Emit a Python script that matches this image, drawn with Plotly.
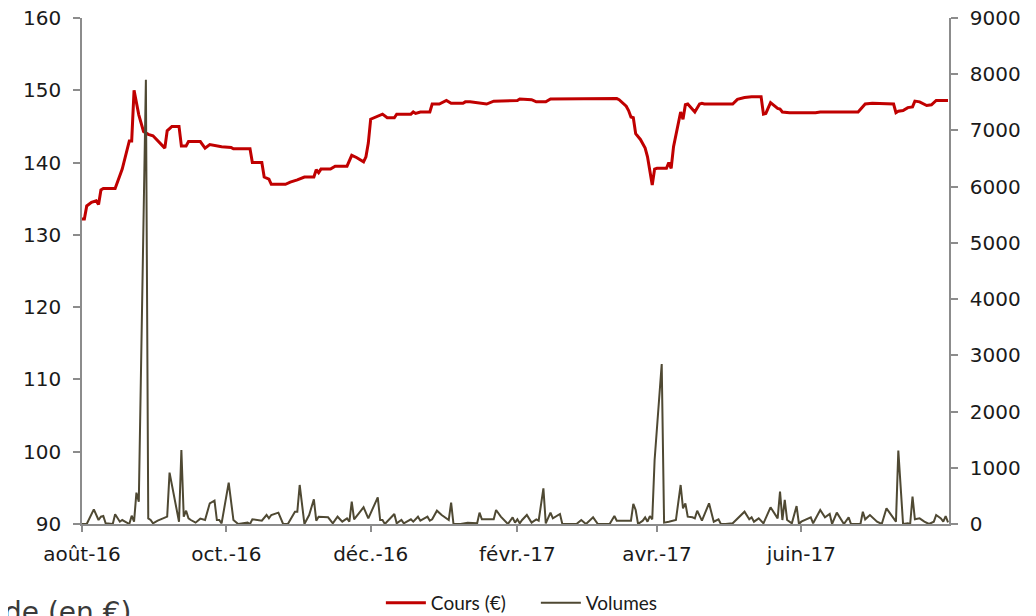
import plotly.graph_objects as go

# --- Data ---
price_dates = [
    "2016-08-01", "2016-08-02", "2016-08-03", "2016-08-05", "2016-08-07", "2016-08-08",
    "2016-08-09", "2016-08-10", "2016-08-15", "2016-08-18", "2016-08-21", "2016-08-22",
    "2016-08-23", "2016-08-25", "2016-08-27", "2016-08-29", "2016-08-31", "2016-09-02",
    "2016-09-04", "2016-09-05", "2016-09-06", "2016-09-08", "2016-09-11", "2016-09-12",
    "2016-09-14", "2016-09-15", "2016-09-20", "2016-09-22", "2016-09-24", "2016-09-27",
    "2016-09-29", "2016-10-03", "2016-10-04", "2016-10-11", "2016-10-12", "2016-10-16",
    "2016-10-17", "2016-10-19", "2016-10-20", "2016-10-26", "2016-10-28", "2016-10-31",
    "2016-11-01", "2016-11-03", "2016-11-07", "2016-11-08", "2016-11-09", "2016-11-10",
    "2016-11-14", "2016-11-16", "2016-11-21", "2016-11-23", "2016-11-25", "2016-11-28",
    "2016-11-29", "2016-11-30", "2016-12-01", "2016-12-04", "2016-12-06", "2016-12-08",
    "2016-12-11", "2016-12-12", "2016-12-18", "2016-12-19", "2016-12-20", "2016-12-22",
    "2016-12-26", "2016-12-27", "2016-12-30", "2017-01-02", "2017-01-04", "2017-01-09",
    "2017-01-10", "2017-01-12", "2017-01-16", "2017-01-19", "2017-01-22", "2017-01-23",
    "2017-01-26", "2017-02-01", "2017-02-02", "2017-02-07", "2017-02-09", "2017-02-13",
    "2017-02-15", "2017-03-15", "2017-03-16", "2017-03-19", "2017-03-20", "2017-03-21",
    "2017-03-22", "2017-03-23", "2017-03-25", "2017-03-27", "2017-03-28", "2017-03-29",
    "2017-03-30", "2017-03-31", "2017-04-01", "2017-04-05", "2017-04-06", "2017-04-07",
    "2017-04-08", "2017-04-11", "2017-04-12", "2017-04-13", "2017-04-14", "2017-04-17",
    "2017-04-19", "2017-04-20", "2017-04-21", "2017-05-03", "2017-05-05", "2017-05-08",
    "2017-05-11", "2017-05-15", "2017-05-16", "2017-05-17", "2017-05-19", "2017-05-22",
    "2017-05-23", "2017-05-24", "2017-05-27", "2017-06-07", "2017-06-09", "2017-06-25",
    "2017-06-28", "2017-07-01", "2017-07-10", "2017-07-11", "2017-07-12", "2017-07-14",
    "2017-07-16", "2017-07-18", "2017-07-19", "2017-07-21", "2017-07-24", "2017-07-26",
    "2017-07-28", "2017-08-02",
]
price_values = [
    132.2, 132.2, 134.0, 134.5, 134.7, 134.2,
    136.2, 136.4, 136.4, 139.1, 143.0, 143.0,
    150.0, 146.6, 144.3, 143.9, 143.7, 143.0,
    142.4, 142.0, 144.4, 145.0, 145.0, 142.3,
    142.3, 142.9, 142.9, 142.0, 142.5, 142.3,
    142.2, 142.1, 141.9, 141.9, 140.0, 140.0,
    138.0, 137.7, 137.0, 137.0, 137.3, 137.6,
    137.7, 138.0, 138.0, 139.0, 138.6, 139.1,
    139.1, 139.5, 139.5, 141.0, 140.7, 140.1,
    140.8, 142.7, 146.0, 146.4, 146.7, 146.2,
    146.2, 146.7, 146.7, 147.0, 146.8, 147.0,
    147.0, 148.1, 148.1, 148.6, 148.2, 148.2,
    148.4, 148.4, 148.2, 148.1, 148.5, 148.5,
    148.6, 148.6, 148.8, 148.7, 148.4, 148.4,
    148.8, 148.85, 148.7, 147.8, 147.2, 146.3,
    146.2, 144.0, 143.2, 142.0, 140.8, 138.5,
    136.9, 139.1, 139.2, 139.2, 140.0, 139.2,
    142.2, 147.0, 146.0, 148.0, 148.1, 147.0,
    148.1, 148.2, 148.1, 148.1, 148.75, 149.0,
    149.1, 149.1, 146.7, 146.8, 148.3, 147.5,
    147.4, 147.0, 146.9, 146.9, 147.0, 147.0,
    148.1, 148.2, 148.1, 146.9, 147.1, 147.2,
    147.6, 147.7, 148.5, 148.4, 147.9, 148.0,
    148.6, 148.6,
]

volume_dates = [
    "2016-08-01", "2016-08-03", "2016-08-06", "2016-08-08", "2016-08-09", "2016-08-10",
    "2016-08-11", "2016-08-14", "2016-08-15", "2016-08-17", "2016-08-18", "2016-08-21",
    "2016-08-22", "2016-08-23", "2016-08-24", "2016-08-25", "2016-08-28", "2016-08-29",
    "2016-08-30", "2016-08-31", "2016-09-02", "2016-09-04", "2016-09-06", "2016-09-07",
    "2016-09-11", "2016-09-12", "2016-09-13", "2016-09-14", "2016-09-15", "2016-09-16",
    "2016-09-18", "2016-09-20", "2016-09-22", "2016-09-24", "2016-09-26", "2016-09-27",
    "2016-09-28", "2016-09-29", "2016-10-02", "2016-10-04", "2016-10-06", "2016-10-10",
    "2016-10-11", "2016-10-12", "2016-10-16", "2016-10-18", "2016-10-19", "2016-10-20",
    "2016-10-23", "2016-10-25", "2016-10-27", "2016-10-30", "2016-10-31", "2016-11-01",
    "2016-11-03", "2016-11-05", "2016-11-07", "2016-11-08", "2016-11-09", "2016-11-13",
    "2016-11-15", "2016-11-17", "2016-11-19", "2016-11-21", "2016-11-22", "2016-11-23",
    "2016-11-24", "2016-11-28", "2016-11-30", "2016-12-04", "2016-12-05", "2016-12-06",
    "2016-12-07", "2016-12-11", "2016-12-12", "2016-12-14", "2016-12-15", "2016-12-18",
    "2016-12-19", "2016-12-21", "2016-12-22", "2016-12-25", "2016-12-26", "2016-12-27",
    "2016-12-29", "2016-12-31", "2017-01-02", "2017-01-03", "2017-01-04", "2017-01-05",
    "2017-01-08", "2017-01-11", "2017-01-15", "2017-01-16", "2017-01-17", "2017-01-18",
    "2017-01-22", "2017-01-23", "2017-01-25", "2017-01-28", "2017-01-30", "2017-01-31",
    "2017-02-01", "2017-02-02", "2017-02-03", "2017-02-05", "2017-02-07", "2017-02-09",
    "2017-02-10", "2017-02-12", "2017-02-13", "2017-02-15", "2017-02-16", "2017-02-19",
    "2017-02-20", "2017-02-26", "2017-02-28", "2017-03-02", "2017-03-05", "2017-03-07",
    "2017-03-12", "2017-03-14", "2017-03-15", "2017-03-21", "2017-03-22", "2017-03-23",
    "2017-03-24", "2017-03-26", "2017-03-27", "2017-03-28", "2017-03-29", "2017-03-30",
    "2017-03-31", "2017-04-03", "2017-04-04", "2017-04-06", "2017-04-09", "2017-04-11",
    "2017-04-12", "2017-04-13", "2017-04-14", "2017-04-16", "2017-04-17", "2017-04-18",
    "2017-04-20", "2017-04-23", "2017-04-25", "2017-04-27", "2017-04-28", "2017-04-30",
    "2017-05-03", "2017-05-08", "2017-05-10", "2017-05-11", "2017-05-12", "2017-05-14",
    "2017-05-16", "2017-05-19", "2017-05-22", "2017-05-23", "2017-05-24", "2017-05-25",
    "2017-05-26", "2017-05-28", "2017-05-30", "2017-05-31", "2017-06-01", "2017-06-05",
    "2017-06-06", "2017-06-09", "2017-06-11", "2017-06-13", "2017-06-14", "2017-06-16",
    "2017-06-19", "2017-06-21", "2017-06-22", "2017-06-26", "2017-06-27", "2017-06-28",
    "2017-06-30", "2017-07-03", "2017-07-05", "2017-07-07", "2017-07-11", "2017-07-12",
    "2017-07-14", "2017-07-16", "2017-07-17", "2017-07-18", "2017-07-19", "2017-07-21",
    "2017-07-23", "2017-07-25", "2017-07-27", "2017-07-28", "2017-07-30", "2017-07-31",
    "2017-08-01", "2017-08-02",
]
volume_values = [
    0, 0, 261, 71, 130, 142,
    12, 0, 172, 41, 71, 0,
    148, 41, 557, 397, 7900, 100,
    71, 12, 59, 95, 130, 913,
    41, 1316, 130, 237, 100, 71,
    24, 95, 71, 368, 415, 71,
    71, 12, 735, 71, 0, 24,
    0, 83, 59, 160, 100, 160,
    202, 0, 0, 219, 219, 694,
    0, 160, 439, 59, 130, 119,
    12, 130, 41, 100, 41, 397,
    83, 297, 100, 474, 71, 71,
    0, 178, 12, 71, 12, 83,
    41, 130, 59, 130, 59, 83,
    237, 160, 100, 71, 380, 0,
    0, 24, 12, 202, 83, 83,
    83, 249, 130, 0, 119, 24,
    83, 12, 71, 160, 24, 83,
    59, 634, 12, 202, 100, 178,
    0, 0, 71, 0, 119, 0,
    0, 142, 59, 59, 356, 249,
    0, 59, 119, 41, 142, 83,
    1139, 2846, 24, 41, 71, 694,
    279, 368, 130, 119, 100, 237,
    59, 368, 41, 83, 0, 0,
    12, 219, 83, 119, 41, 100,
    12, 297, 100, 575, 71, 427,
    71, 12, 320, 0, 41, 119,
    12, 249, 119, 178, 0, 202,
    0, 119, 0, 0, 219, 83,
    160, 41, 0, 279, 41, 1305,
    0, 12, 0, 486, 83, 100,
    41, 0, 41, 160, 100, 41,
    142, 30,
]

tick_dates = ["2016-08-01", "2016-10-01", "2016-12-01", "2017-02-01", "2017-04-01", "2017-06-01"]
tick_labels = ["août-16", "oct.-16", "déc.-16", "févr.-17", "avr.-17", "juin-17"]

AXIS_COLOR = "#8c8c8c"
TICK_FONT = dict(family="DejaVu Sans", size=20, color="#1a1a1a")

# page body adds an 8px offset; margins compensate so the plot area sits at x 82-949, y 18-524
ML, MT, PW, PH = 74, 10, 867, 506
W, H = 1036, 616

fig = go.Figure()
fig.add_trace(go.Scatter(
    x=price_dates, y=price_values, name="Cours (€)", mode="lines",
    line=dict(color="#C00000", width=3), yaxis="y",
))
fig.add_trace(go.Scatter(
    x=volume_dates, y=volume_values, name="Volumes", mode="lines",
    line=dict(color="#4F4933", width=2), yaxis="y2",
))

fig.update_layout(
    width=W, height=H,
    margin=dict(l=ML, r=W - ML - PW, t=MT, b=H - MT - PH, autoexpand=False),
    paper_bgcolor="white", plot_bgcolor="white",
    showlegend=True,
    legend=dict(
        orientation="h", x=0.5235, xanchor="center", y=-0.156, yanchor="middle",
        font=dict(family="Lato", size=19, color="#1a1a1a"),
        bgcolor="rgba(0,0,0,0)", itemwidth=40,
        entrywidth=100, entrywidthmode="pixels",
    ),
    xaxis=dict(
        type="date", range=["2016-08-01", "2017-08-02 10:00"],
        tickvals=tick_dates, ticktext=tick_labels,
        showgrid=False, zeroline=False, automargin=False,
        showline=True, linecolor=AXIS_COLOR, linewidth=1.5,
        ticks="outside", ticklen=6, tickwidth=1.5, tickcolor=AXIS_COLOR,
        tickfont=TICK_FONT, ticklabeloverflow="allow", ticklabelstandoff=5,
    ),
    yaxis=dict(
        range=[90, 160], dtick=10, tick0=90,
        showgrid=False, zeroline=False, automargin=False,
        showline=True, linecolor=AXIS_COLOR, linewidth=1.5,
        ticks="outside", ticklen=7, tickwidth=1.5, tickcolor=AXIS_COLOR,
        tickfont=TICK_FONT, ticklabelstandoff=8, ticklabeloverflow="allow",
    ),
    yaxis2=dict(
        range=[0, 9000], dtick=1000, tick0=0,
        overlaying="y", side="right", anchor="x",
        showgrid=False, zeroline=False, automargin=False,
        showline=True, linecolor=AXIS_COLOR, linewidth=1.5,
        ticks="outside", ticklen=7, tickwidth=1.5, tickcolor=AXIS_COLOR,
        tickfont=TICK_FONT, ticklabelstandoff=8, ticklabeloverflow="allow",
    ),
)

fig.add_annotation(
    text="de (en €)", xref="paper", yref="paper",
    x=-(ML + 6) / PW, xanchor="left", y=-(594 - 524) / PH, yanchor="top",
    showarrow=False, font=dict(family="DejaVu Sans", size=28, color="#3a3a3a"),
)

fig.write_html("out.html")
